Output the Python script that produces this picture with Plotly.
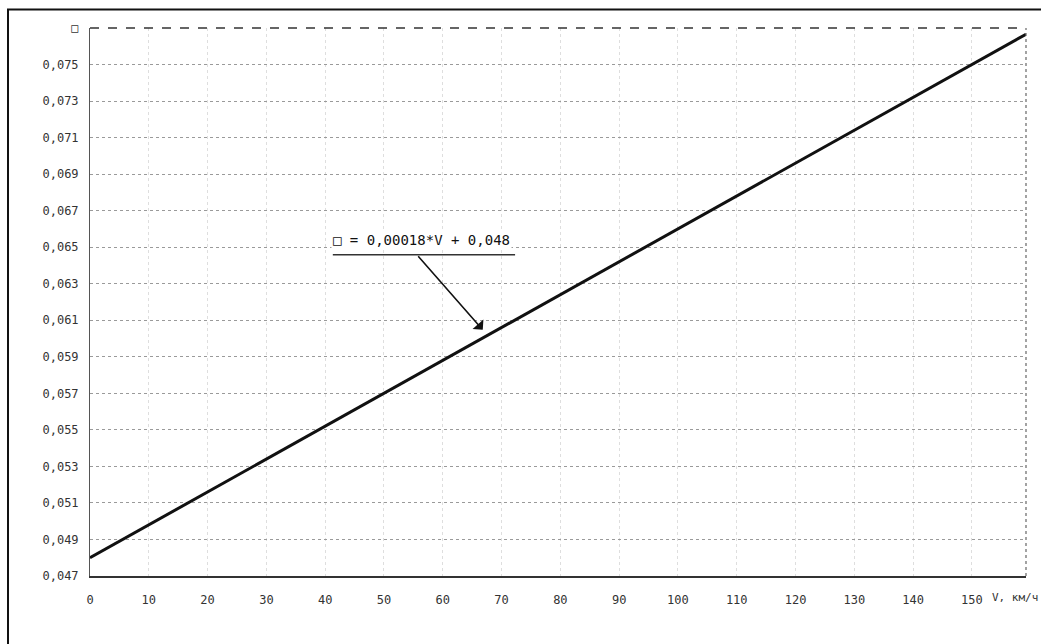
import plotly.graph_objects as go

# Data
speed_v = [0, 159.2]                 # V, km/h
coef_values = [0.048, 0.07666]       # coefficient values
x_tick_vals = [0, 10, 20, 30, 40, 50, 60, 70, 80, 90, 100, 110, 120, 130, 140, 150]
x_tick_text = [str(v) for v in x_tick_vals]
y_tick_vals = [0.047, 0.049, 0.051, 0.053, 0.055, 0.057, 0.059, 0.061, 0.063,
               0.065, 0.067, 0.069, 0.071, 0.073, 0.075, 0.077]
y_tick_text = ["0,047", "0,049", "0,051", "0,053", "0,055", "0,057", "0,059", "0,061",
               "0,063", "0,065", "0,067", "0,069", "0,071", "0,073", "0,075", "\u25a1"]
formula_text = "\u25a1 = 0,00018*V + 0,048"
x_axis_label = "V, км/ч"

FONT = "DejaVu Sans Mono, Liberation Mono, monospace"

fig = go.Figure()
fig.add_trace(go.Scatter(x=speed_v, y=coef_values, mode="lines",
                         line=dict(color="#111111", width=3), showlegend=False,
                         hoverinfo="skip"))

fig.update_layout(
    width=1041, height=644,
    margin=dict(l=90, r=15, t=28, b=68),
    paper_bgcolor="white", plot_bgcolor="white",
    font=dict(family=FONT, size=12, color="#222222"),
    xaxis=dict(range=[0, 159.2], tickvals=x_tick_vals, ticktext=x_tick_text,
               showgrid=True, gridcolor="#dedede", griddash="dot", gridwidth=1,
               showline=True, linecolor="#333333", linewidth=2, mirror=False,
               zeroline=False, ticks="", ticklabelstandoff=12,
               tickfont=dict(family=FONT, size=12, color="#333333")),
    yaxis=dict(range=[0.047, 0.077], tickvals=y_tick_vals, ticktext=y_tick_text,
               showgrid=True, gridcolor="#9a9a9a", griddash="dot", gridwidth=1,
               showline=True, linecolor="#555555", linewidth=1, mirror=False,
               zeroline=False, ticks="", ticklabelstandoff=8,
               tickfont=dict(family=FONT, size=12, color="#333333")),
)

# plot border: top dark, right dotted
fig.add_shape(type="line", xref="paper", yref="paper", x0=0, x1=1, y0=1, y1=1,
              line=dict(color="#333333", width=1.5, dash="dash"))
fig.add_shape(type="line", xref="paper", yref="paper", x0=1, x1=1, y0=0, y1=1,
              line=dict(color="#666666", width=1.2, dash="dot"))

# outer frame of the scanned figure
fig.add_shape(type="rect", xref="paper", yref="paper",
              x0=-0.0876, x1=1.2, y0=-0.3, y1=1.0338,
              line=dict(color="#111111", width=2), fillcolor="rgba(0,0,0,0)")

# formula annotation with underline and arrow
fig.add_annotation(x=56.3, y=0.06541, xref="x", yref="y", text=formula_text,
                   showarrow=False, font=dict(family=FONT, size=14, color="#111111"),
                   bgcolor="white")
fig.add_shape(type="line", xref="x", yref="y", x0=41.3, x1=72.3, y0=0.06459, y1=0.06459,
              line=dict(color="#333333", width=1.5))
fig.add_annotation(x=66.8, y=0.06048, xref="x", yref="y", ax=55.6, ay=0.06459,
                   axref="x", ayref="y", text="", showarrow=True,
                   arrowhead=1, arrowsize=1.5, arrowwidth=1.6, arrowcolor="#111111")

# x axis name at end of axis
fig.add_annotation(x=0.962, y=-0.04, xref="paper", yref="paper", text=x_axis_label,
                   showarrow=False, xanchor="left", yanchor="middle",
                   font=dict(family=FONT, size=11, color="#333333"))

fig.write_html("out.html")
